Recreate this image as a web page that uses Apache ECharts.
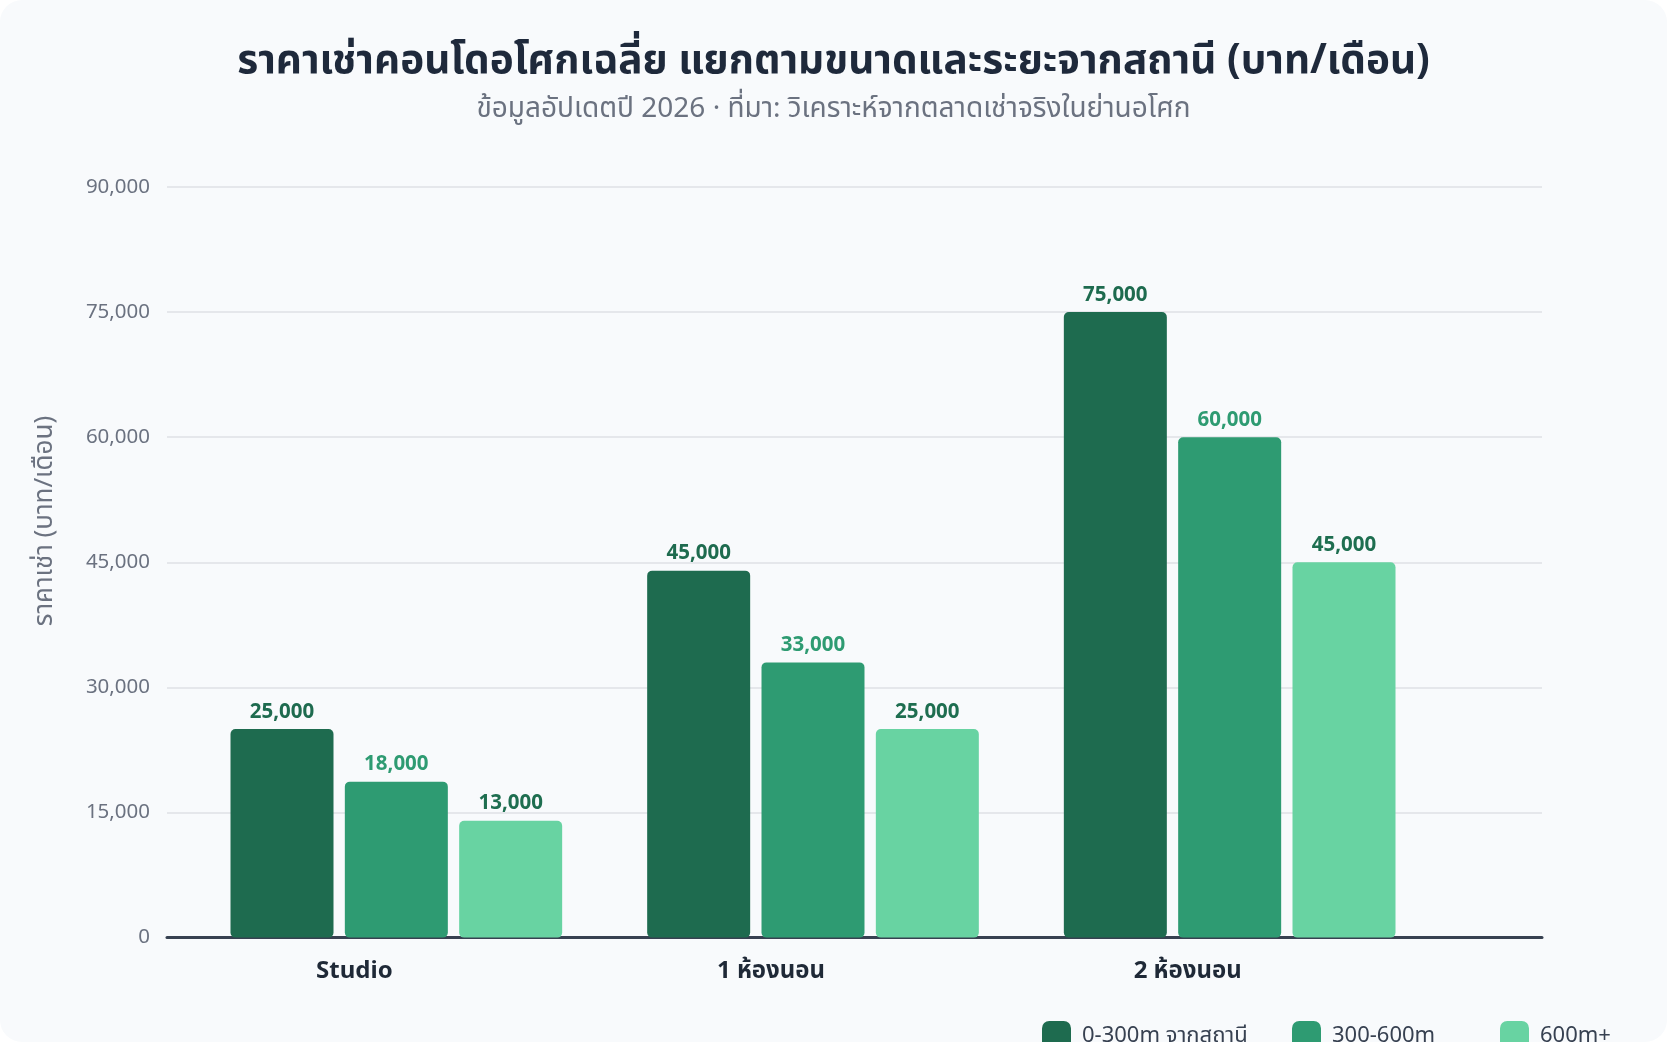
<!DOCTYPE html>
<html>
<head>
<meta charset="utf-8">
<script src="https://cdn.jsdelivr.net/npm/echarts@6/dist/echarts.min.js"></script>
<style>
  html, body { margin: 0; padding: 0; background: #ffffff; }
  #card { width: 1667px; height: 1042px; background: #f8fafc; border-radius: 22px; overflow: hidden; }
  #chart { width: 1667px; height: 1042px; }
</style>
</head>
<body>
<div id="card"><div id="chart"></div></div>
<script>
// ---- data ----
const categories = ['Studio', '1 ห้องนอน', '2 ห้องนอน'];
const seriesNames = ['0-300m จากสถานี', '300-600m', '600m+'];
// bar heights as drawn in the reference
const near = [25000, 44000, 75000];
const mid = [18700, 33000, 60000];
const far = [14000, 25000, 45000];
// value labels as printed in the reference
const nearLabels = ['25,000', '45,000', '75,000'];
const midLabels = ['18,000', '33,000', '60,000'];
const farLabels = ['13,000', '25,000', '45,000'];
const yTicks = [0, 15000, 30000, 45000, 60000, 75000, 90000];

const FONT = "'Noto Sans', 'Noto Sans Thai', 'Noto Sans CJK SC', sans-serif";
const colors = ['#1e6b4f', '#2e9b72', '#68d3a2'];
const labelColors = ['#1e6b4f', '#2e9b72', '#1e6e50'];
const legendLefts = [1037, 1287, 1495];

const chart = echarts.init(document.getElementById('chart'), null, { renderer: 'canvas' });

function barSeries(i, values, labels) {
  return {
    name: seriesNames[i],
    type: 'bar',
    xAxisIndex: 1,
    yAxisIndex: 1,
    data: values,
    barWidth: 103,
    barGap: '11%',
    itemStyle: { color: colors[i], borderRadius: 5 },
    label: {
      show: true,
      position: 'top',
      distance: 7,
      fontFamily: FONT,
      fontSize: 20.5,
      fontWeight: 'bold',
      color: labelColors[i],
      formatter: p => labels[p.dataIndex]
    }
  };
}

const option = {
  backgroundColor: 'transparent',
  animation: false,
  textStyle: { fontFamily: FONT },
  title: [
    {
      text: 'ราคาเช่าคอนโดอโศกเฉลี่ย แยกตามขนาดและระยะจากสถานี (บาท/เดือน)',
      left: 'center', top: 36,
      textStyle: { fontFamily: FONT, fontSize: 40.5, fontWeight: 'bold', color: '#1e293b' }
    },
    {
      text: 'ข้อมูลอัปเดตปี 2026 · ที่มา: วิเคราะห์จากตลาดเช่าจริงในย่านอโศก',
      left: 'center', top: 90,
      textStyle: { fontFamily: FONT, fontSize: 28, fontWeight: 'normal', color: '#6b7280' }
    }
  ],
  legend: seriesNames.map((n, i) => ({
    data: [n],
    left: legendLefts[i],
    top: 1016,
    itemWidth: 29,
    itemHeight: 29,
    icon: 'roundRect',
    textStyle: { fontFamily: FONT, fontSize: 22, color: '#374151', padding: [0, 0, 0, 6] }
  })),
  grid: [
    { left: 167, right: 125, top: 187, bottom: 104.4 },
    { left: 188, right: 229, top: 187, bottom: 104.4 }
  ],
  xAxis: [
    {
      gridIndex: 0, type: 'value', min: 0, max: 1,
      axisLine: { show: true, lineStyle: { color: '#374151', width: 3 } },
      axisTick: { show: false }, axisLabel: { show: false }, splitLine: { show: false }
    },
    {
      gridIndex: 1, type: 'category', data: categories,
      axisLine: { show: false }, axisTick: { show: false },
      axisLabel: {
        margin: 22, fontFamily: FONT, fontSize: 24, fontWeight: 'bold', color: '#1f2937',
        padding: [0, 84, 0, 0]
      }
    }
  ],
  yAxis: [
    {
      gridIndex: 0, type: 'value', min: 0, max: 90000, interval: 15000,
      axisLine: { show: false }, axisTick: { show: false },
      axisLabel: {
        margin: 17, fontFamily: FONT, fontSize: 20.5, color: '#6b7280',
        formatter: v => yTicks.includes(v) ? v.toLocaleString('en-US') : ''
      },
      splitLine: { lineStyle: { color: '#e5e7eb', width: 2 } }
    },
    {
      gridIndex: 1, type: 'value', min: 0, max: 90000, interval: 15000, show: false,
      splitLine: { show: false }
    }
  ],
  graphic: [
    {
      type: 'text',
      x: 45, y: 521,
      rotation: Math.PI / 2,
      style: {
        text: 'ราคาเช่า (บาท/เดือน)',
        font: '26px ' + FONT,
        fill: '#6b7280',
        textAlign: 'center',
        textVerticalAlign: 'middle'
      }
    }
  ],
  series: [
    barSeries(0, near, nearLabels),
    barSeries(1, mid, midLabels),
    barSeries(2, far, farLabels)
  ]
};
chart.setOption(option);
</script>
</body>
</html>
